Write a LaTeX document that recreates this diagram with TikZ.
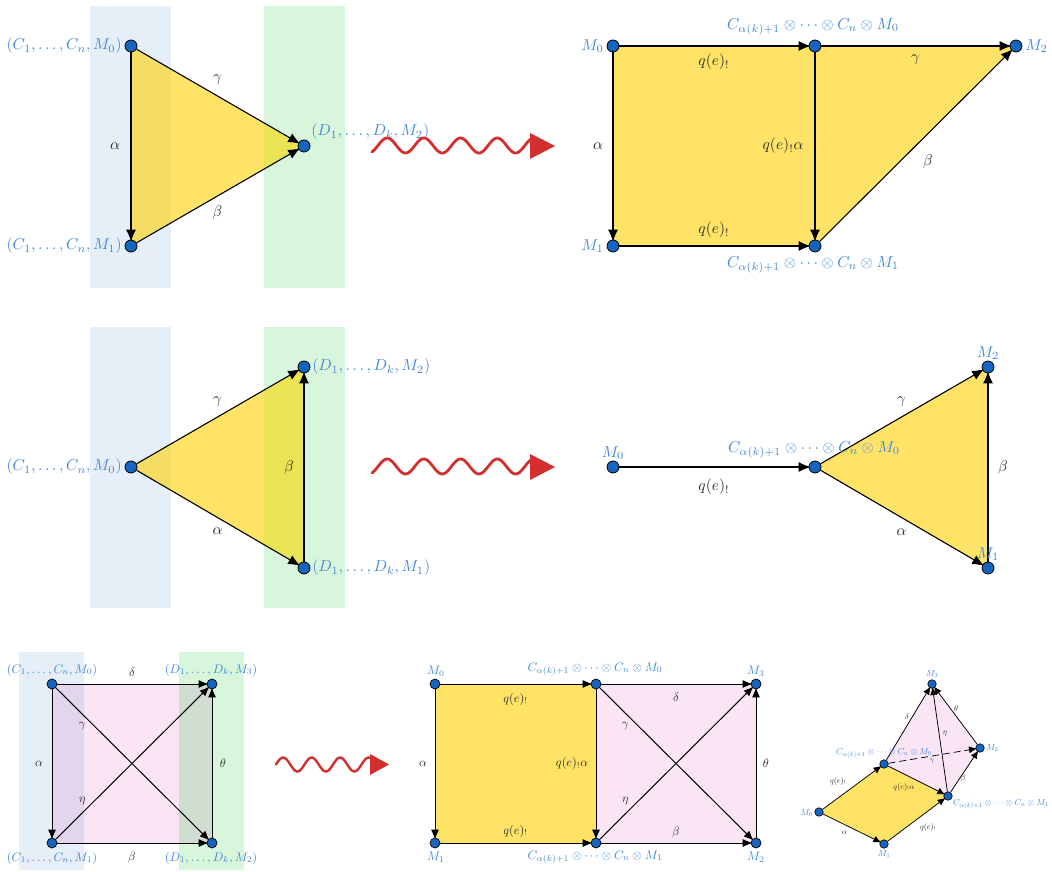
\documentclass[tikz,border=0pt]{standalone}
\usepackage{amsmath,amssymb}
\usetikzlibrary{arrows.meta,calc}
\pgfdeclarelayer{back}
\pgfdeclarelayer{mid}
\pgfsetlayers{back,mid,main}
\definecolor{nodeblue}{RGB}{21,101,192}
\definecolor{lblue}{RGB}{66,135,215}
\definecolor{labgray}{RGB}{45,45,45}
\definecolor{bandB}{RGB}{230,238,248}
\definecolor{bandG}{RGB}{216,246,220}
\definecolor{yel}{RGB}{255,227,102}
\definecolor{yelB}{RGB}{244,221,98}
\definecolor{yelG}{RGB}{234,228,84}
\definecolor{pnk}{RGB}{249,229,244}
\definecolor{pnkB}{RGB}{226,214,237}
\definecolor{pnkG}{RGB}{210,221,210}
\definecolor{sqred}{RGB}{211,47,47}
\tikzset{
 pt/.style={circle,draw=black,fill=nodeblue,inner sep=0pt,minimum size=12pt,line width=0.8pt},
 ptM/.style={pt,minimum size=10pt,line width=0.7pt},
 ptS/.style={pt,minimum size=8.5pt,line width=0.6pt},
 lbase/.style={text=lblue,inner sep=0pt,transform shape},
 nlab/.style={lbase,scale=1.58},
 nlabM/.style={lbase,scale=1.24},
 nlabS/.style={lbase,scale=0.88},
 ebase/.style={text=labgray,inner sep=0pt,transform shape},
 elab/.style={ebase,scale=1.55},
 elabM/.style={ebase,scale=1.22},
 elabS/.style={ebase,scale=0.8},
 arr/.style={draw=black,line width=1.1pt,-{Latex[length=12pt,width=10pt]},shorten >=-2pt},
 arrM/.style={draw=black,line width=1pt,-{Latex[length=10pt,width=8pt]},shorten >=-2pt},
 arrS/.style={draw=black,line width=0.75pt,-{Latex[length=8pt,width=7pt]},shorten >=-1.5pt},
 squig/.style={draw=sqred,line width=2.8pt,line cap=round,line join=round},
 squigS/.style={draw=sqred,line width=2.4pt,line cap=round,line join=round},
}
\begin{document}
\begin{tikzpicture}[x=1pt,y=-1pt]
\useasboundingbox (0,0) rectangle (1052,872);

% ---------------- Row 1 left
\node[pt] (a1) at (131,46) {};
\node[pt] (b1) at (131,246) {};
\node[pt] (c1) at (304,146) {};
\node[nlab,anchor=east] (a1l) at (122,46) {$(C_1,\ldots,C_n,M_0)$};
\node[nlab,anchor=east] (b1l) at (122,246) {$(C_1,\ldots,C_n,M_1)$};
\node[nlab,anchor=west] (c1l) at (311,132) {$(D_1,\ldots,D_k,M_2)$};

% ---------------- Row 1 right
\node[pt] (r1m0) at (613,46) {};
\node[pt] (r1x0) at (815,46) {};
\node[pt] (r1m2) at (1016,46) {};
\node[pt] (r1m1) at (613,246) {};
\node[pt] (r1x1) at (815,246) {};
\node[nlab,anchor=east] (r1m0l) at (604,46) {$M_0$};
\node[nlab,anchor=west] (r1m2l) at (1025,46) {$M_2$};
\node[nlab,anchor=east] (r1m1l) at (604,246) {$M_1$};
\node[nlab] (r1x0l) at (813,27) {$C_{\alpha(k)+1}\otimes\cdots\otimes C_n\otimes M_0$};
\node[nlab] (r1x1l) at (813,265) {$C_{\alpha(k)+1}\otimes\cdots\otimes C_n\otimes M_1$};

% ---------------- Row 2 left
\node[pt] (a2) at (131,467) {};
\node[pt] (t2) at (304,367) {};
\node[pt] (b2) at (304,568) {};
\node[nlab,anchor=east] (a2l) at (122,467) {$(C_1,\ldots,C_n,M_0)$};
\node[nlab,anchor=west] (t2l) at (312,367) {$(D_1,\ldots,D_k,M_2)$};
\node[nlab,anchor=west] (b2l) at (312,568) {$(D_1,\ldots,D_k,M_1)$};

% ---------------- Row 2 right
\node[pt] (r2m0) at (613,467) {};
\node[pt] (r2x0) at (815,467) {};
\node[pt] (r2m2) at (988,367) {};
\node[pt] (r2m1) at (988,568) {};
\node[nlab] (r2m0l) at (613,453) {$M_0$};
\node[nlab] (r2x0l) at (814,450) {$C_{\alpha(k)+1}\otimes\cdots\otimes C_n\otimes M_0$};
\node[nlab] (r2m2l) at (988,353) {$M_2$};
\node[nlab] (r2m1l) at (988,554) {$M_1$};

% ---------------- Row 3 left
\node[ptM] (tl) at (52,684) {};
\node[ptM] (tr) at (212,684) {};
\node[ptM] (bl) at (52,843) {};
\node[ptM] (br) at (212,843) {};
\node[nlabM] (tll) at (52,670) {$(C_1,\ldots,C_n,M_0)$};
\node[nlabM] (trl) at (211,670) {$(D_1,\ldots,D_k,M_3)$};
\node[nlabM] (bll) at (52,858) {$(C_1,\ldots,C_n,M_1)$};
\node[nlabM] (brl) at (211,858) {$(D_1,\ldots,D_k,M_2)$};

% ---------------- Row 3 middle
\node[ptM] (m0) at (435,684) {};
\node[ptM] (x0) at (596,684) {};
\node[ptM] (m3) at (756,684) {};
\node[ptM] (m1) at (435,843) {};
\node[ptM] (x1) at (596,843) {};
\node[ptM] (m2) at (756,843) {};
\node[nlabM] (m0l) at (436,671) {$M_0$};
\node[nlabM] (x0l) at (595,669) {$C_{\alpha(k)+1}\otimes\cdots\otimes C_n\otimes M_0$};
\node[nlabM] (m3l) at (756,671) {$M_3$};
\node[nlabM] (m1l) at (436,857) {$M_1$};
\node[nlabM] (x1l) at (595,857) {$C_{\alpha(k)+1}\otimes\cdots\otimes C_n\otimes M_1$};
\node[nlabM] (m2l) at (756,857) {$M_2$};

% ---------------- Row 3 tiny
\node[ptS] (s0) at (819,812) {};
\node[ptS] (s1) at (884,844) {};
\node[ptS] (sx1) at (948,796) {};
\node[ptS] (sx0) at (884,764) {};
\node[ptS] (s3) at (932,684) {};
\node[ptS] (s2) at (980,748) {};
\node[nlabS] (s3l) at (932,674) {$M_3$};
\node[nlabS,anchor=west] (s2l) at (986,748) {$M_2$};
\node[nlabS,anchor=east] (s0l) at (813,813) {$M_0$};
\node[nlabS] (s1l) at (884,854) {$M_1$};
\node[nlabS] (sx0l) at (884,753) {$C_{\alpha(k)+1}\otimes\cdots\otimes C_n\otimes M_0$};
\node[nlabS,anchor=west] (sx1l) at (953,804) {$C_{\alpha(k)+1}\otimes\cdots\otimes C_n\otimes M_1$};

% ---------------- squiggles (wavy red arrows)
\draw[squig] plot[domain=372:532,samples=120,smooth] (\x,{145.5-7.5*sin((\x-378)/36.7*360)});
\fill[sqred] (530,133) -- (555,146) -- (530,159) -- cycle;
\draw[squig] plot[domain=372:532,samples=120,smooth] (\x,{466.5-7.5*sin((\x-378)/36.7*360)});
\fill[sqred] (530,454) -- (555,467) -- (530,480) -- cycle;
\draw[squigS] plot[domain=276:372,samples=90,smooth] (\x,{764.5-7*sin((\x-276)/28.5*360)});
\fill[sqred] (370,754) -- (389,764.5) -- (370,775) -- cycle;

% ---------------- backgrounds
\begin{pgfonlayer}{back}
 % row 1 left
 \fill[bandB] (90,6) rectangle (171,288);
 \fill[bandG] (264,6) rectangle (345,288);
 \fill[yel] (a1.center) -- (b1.center) -- (c1.center) -- cycle;
 \begin{scope}\clip (90,6) rectangle (171,288);
  \fill[yelB] (a1.center) -- (b1.center) -- (c1.center) -- cycle;\end{scope}
 \begin{scope}\clip (264,6) rectangle (345,288);
  \fill[yelG] (a1.center) -- (b1.center) -- (c1.center) -- cycle;\end{scope}
 % row 1 right
 \fill[yel] (r1m0.center) -- (r1x0.center) -- (r1m2.center) -- (r1x1.center) -- (r1m1.center) -- cycle;
 % row 2 left
 \fill[bandB] (90,327) rectangle (171,608);
 \fill[bandG] (264,327) rectangle (345,608);
 \fill[yel] (a2.center) -- (t2.center) -- (b2.center) -- cycle;
 \begin{scope}\clip (90,327) rectangle (171,608);
  \fill[yelB] (a2.center) -- (t2.center) -- (b2.center) -- cycle;\end{scope}
 \begin{scope}\clip (264,327) rectangle (345,608);
  \fill[yelG] (a2.center) -- (t2.center) -- (b2.center) -- cycle;\end{scope}
 % row 2 right
 \fill[yel] (r2x0.center) -- (r2m2.center) -- (r2m1.center) -- cycle;
 % row 3 left
 \fill[bandB] (19,652) rectangle (84,870);
 \fill[bandG] (179,652) rectangle (244,870);
 \fill[pnk] (tl.center) rectangle (br.center);
 \begin{scope}\clip (19,652) rectangle (84,870);
  \fill[pnkB] (tl.center) rectangle (br.center);\end{scope}
 \begin{scope}\clip (179,652) rectangle (244,870);
  \fill[pnkG] (tl.center) rectangle (br.center);\end{scope}
 % row 3 middle
 \fill[yel] (m0.center) rectangle (x1.center);
 \fill[pnk] (x0.center) rectangle (m2.center);
 % tiny
 \fill[yel] (s0.center) -- (sx0.center) -- (sx1.center) -- (s1.center) -- cycle;
 \fill[pnk] (sx0.center) -- (s3.center) -- (s2.center) -- (sx1.center) -- cycle;
\end{pgfonlayer}

% ---------------- edges
\begin{pgfonlayer}{mid}
 % row 1 left
 \draw[arr] (a1) -- node[xshift=-16pt,elab] (e1) {$\alpha$} (b1);
 \draw[arr] (a1) -- node[yshift=16pt,elab] (e2) {$\gamma$} (c1);
 \draw[arr] (b1) -- node[yshift=-17pt,elab] (e3) {$\beta$} (c1);
 % row 1 right
 \draw[arr] (r1m0) -- node[yshift=-16pt,elab] (e4) {$q(e)_!$} (r1x0);
 \draw[arr] (r1x0) -- node[yshift=-14pt,elab] (e5) {$\gamma$} (r1m2);
 \draw[arr] (r1m0) -- node[xshift=-15pt,elab] (e6) {$\alpha$} (r1m1);
 \draw[arr] (r1x0) -- node[xshift=-32pt,elab] (e7) {$q(e)_!\alpha$} (r1x1);
 \draw[arr] (r1m1) -- node[yshift=16pt,elab] (e8) {$q(e)_!$} (r1x1);
 \draw[arr] (r1x1) -- node[xshift=12.5pt,yshift=-16pt,elab] (e9) {$\beta$} (r1m2);
 % row 2 left
 \draw[arr] (a2) -- node[yshift=15pt,elab] (f1) {$\gamma$} (t2);
 \draw[arr] (a2) -- node[yshift=-14pt,elab] (f2) {$\alpha$} (b2);
 \draw[arr] (b2) -- node[xshift=-15pt,elab] (f3) {$\beta$} (t2);
 % row 2 right
 \draw[arr] (r2m0) -- node[yshift=-20pt,elab] (f4) {$q(e)_!$} (r2x0);
 \draw[arr] (r2x0) -- node[yshift=15pt,elab] (f5) {$\gamma$} (r2m2);
 \draw[arr] (r2x0) -- node[yshift=-14.5pt,elab] (f6) {$\alpha$} (r2m1);
 \draw[arr] (r2m1) -- node[xshift=15pt,elab] (f7) {$\beta$} (r2m2);
 % row 3 left
 \draw[arrM] (tl) -- node[xshift=-13pt,elabM] (g1) {$\alpha$} (bl);
 \draw[arrM] (tl) -- node[yshift=12pt,elabM] (g2) {$\delta$} (tr);
 \draw[arrM] (br) -- node[xshift=11pt,elabM] (g3) {$\theta$} (tr);
 \draw[arrM] (bl) -- node[yshift=-14pt,elabM] (g4) {$\beta$} (br);
 \draw[arrM] (tl) -- node[pos=0.2,xshift=-4pt,yshift=-8pt,elabM] (g5) {$\gamma$} (br);
 \draw[arrM] (bl) -- node[pos=0.2,xshift=-4pt,yshift=8pt,elabM] (g6) {$\eta$} (tr);
 % row 3 middle
 \draw[arrM] (m0) -- node[yshift=-15pt,elabM] (h1) {$q(e)_!$} (x0);
 \draw[arrM] (m0) -- node[xshift=-12pt,elabM] (h2) {$\alpha$} (m1);
 \draw[arrM] (m1) -- node[yshift=12pt,elabM] (h3) {$q(e)_!$} (x1);
 \draw[arrM] (x0) -- node[xshift=-24pt,elabM] (h4) {$q(e)_!\alpha$} (x1);
 \draw[arrM] (x0) -- node[yshift=-13pt,elabM] (h5) {$\delta$} (m3);
 \draw[arrM] (x1) -- node[yshift=11pt,elabM] (h6) {$\beta$} (m2);
 \draw[arrM] (x0) -- node[pos=0.2,xshift=-5pt,yshift=-8pt,elabM] (h7) {$\gamma$} (m2);
 \draw[arrM] (x1) -- node[pos=0.2,xshift=-5pt,yshift=8pt,elabM] (h8) {$\eta$} (m3);
 \draw[arrM] (m2) -- node[xshift=10pt,elabM] (h9) {$\theta$} (m3);
 % tiny
 \draw[arrS] (s0) -- node[xshift=-13.5pt,yshift=7pt,elabS] (k1) {$q(e)_!$} (sx0);
 \draw[arrS] (s0) -- node[xshift=-7pt,yshift=-5pt,elabS] (k2) {$\alpha$} (s1);
 \draw[arrS] (s1) -- node[xshift=12pt,yshift=-7pt,elabS] (k3) {$q(e)_!$} (sx1);
 \draw[arrS] (sx0) -- node[xshift=-12pt,yshift=-7pt,elabS] (k4) {$q(e)_!\alpha$} (sx1);
 \draw[arrS] (sx0) -- node[xshift=-1pt,yshift=7pt,elabS] (k5) {$\delta$} (s3);
 \draw[arrS] (sx1) -- node[xshift=5pt,yshift=6pt,elabS] (k6) {$\eta$} (s3);
 \draw[arrS] (s2) -- node[yshift=7pt,elabS] (k7) {$\theta$} (s3);
 \draw[arrS] (sx1) -- node[xshift=-1pt,yshift=-6pt,elabS] (k8) {$\beta$} (s2);
 \draw[arrS,dash pattern=on 7pt off 4pt] (sx0) -- node[yshift=-6pt,elabS] (k9) {$\gamma$} (s2);
\end{pgfonlayer}
\end{tikzpicture}
\end{document}
